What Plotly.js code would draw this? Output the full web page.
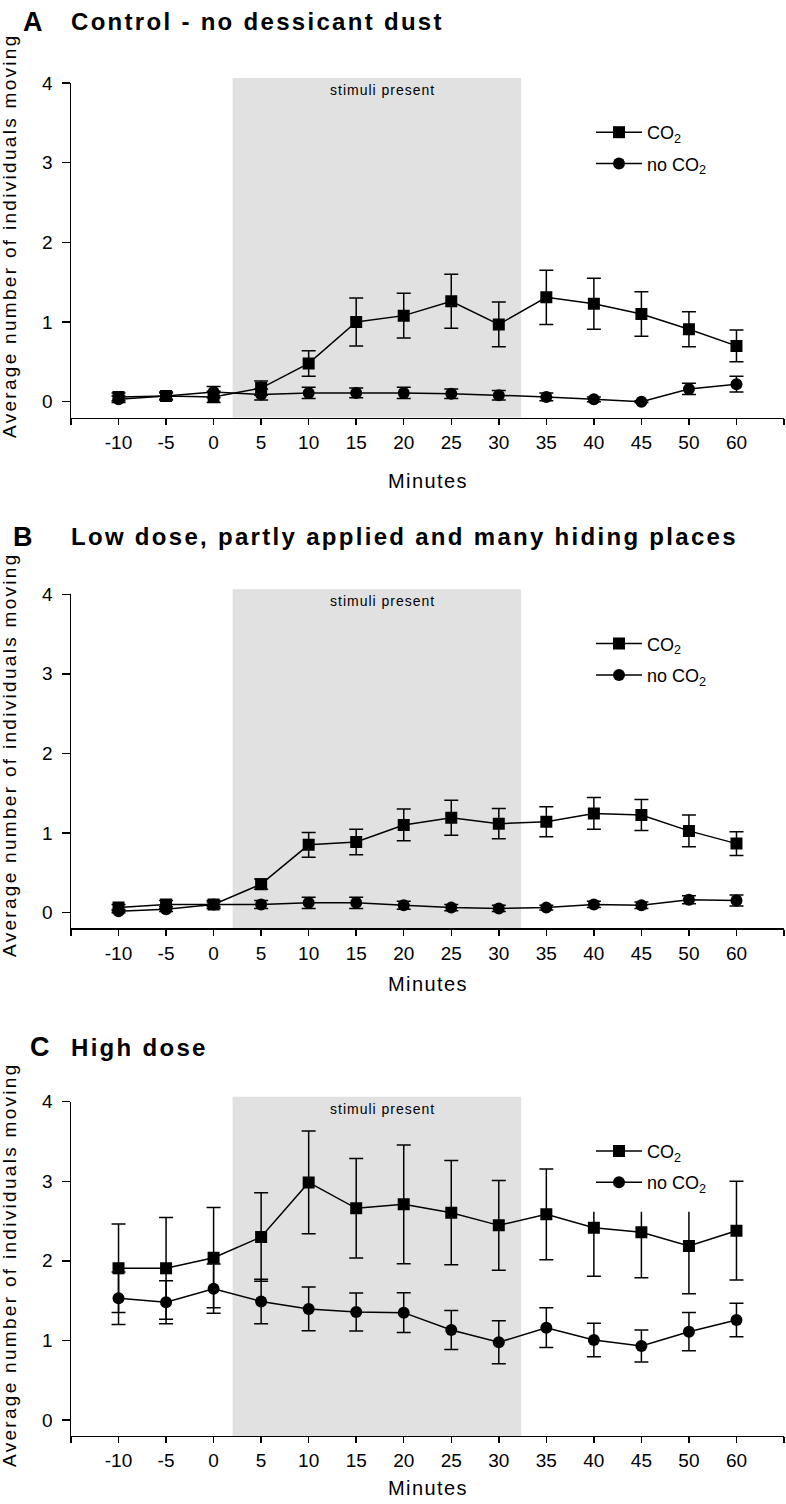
<!DOCTYPE html>
<html>
<head>
<meta charset="utf-8">
<script src="https://cdn.plot.ly/plotly-3.0.1.min.js"></script>
<style>html,body{margin:0;padding:0;background:#fff;}</style>
</head>
<body>
<div id="chart" style="width:786px;height:1504px;"></div>
<script>
// ---------------- data ----------------
const categories = ['-10','-5','0','5','10','15','20','25','30','35','40','45','50','60'];
const panelLetters = ['A','B','C'];
const panelTitles = ['Control - no dessicant dust','Low dose, partly applied and many hiding places','High dose'];
const seriesNames = ['CO<sub>2</sub>','no CO<sub>2</sub>'];
const yTicks = [0,1,2,3,4];
const stimuliStart = 2.4;   // category-index position where the stimulus block starts
const stimuliEnd = 8.47;    // category-index position where it ends

// Panel A: control
const co2A     = [0.06,0.07,0.06,0.17,0.48,1.00,1.08,1.26,0.97,1.31,1.23,1.10,0.91,0.70];
const co2AErr  = [0.05,0.05,0.07,0.09,0.16,0.30,0.28,0.34,0.28,0.34,0.32,0.28,0.22,0.20];
const noA      = [0.03,0.07,0.12,0.09,0.11,0.11,0.11,0.10,0.08,0.06,0.03,0.00,0.16,0.22];
const noAErr   = [0.04,0.04,0.07,0.07,0.07,0.06,0.07,0.06,0.06,0.05,0.03,0.01,0.07,0.10];

// Panel B: low dose
const co2B     = [0.06,0.10,0.10,0.355,0.85,0.885,1.10,1.19,1.115,1.14,1.245,1.225,1.025,0.865];
const co2BErr  = [0.04,0.05,0.05,0.065,0.155,0.16,0.20,0.22,0.19,0.19,0.20,0.195,0.20,0.15];
const noB      = [0.015,0.04,0.10,0.10,0.12,0.12,0.09,0.06,0.05,0.06,0.10,0.09,0.16,0.15];
const noBErr   = [0.02,0.03,0.03,0.05,0.07,0.07,0.05,0.04,0.04,0.03,0.04,0.04,0.05,0.07];

// Panel C: high dose
const co2C     = [1.906,1.906,2.04,2.30,2.986,2.66,2.71,2.605,2.446,2.584,2.417,2.358,2.186,2.379];
const co2CErr  = [0.556,0.64,0.63,0.555,0.645,0.625,0.745,0.655,0.565,0.57,0.61,0.57,0.60,0.62];
const noC      = [1.53,1.48,1.65,1.49,1.395,1.357,1.349,1.131,0.976,1.16,1.005,0.93,1.11,1.257];
const noCErr   = [0.33,0.27,0.31,0.28,0.275,0.24,0.25,0.245,0.27,0.25,0.21,0.20,0.24,0.21];

// ---------------- layout helpers ----------------
const W = 786, H = 1504, ML = 71, MR = 2;
const PW = W - ML - MR;
const FONT = 'Liberation Sans, Arial, Helvetica, sans-serif';
const py = px => 1 - px / H;            // page pixel -> paper y
const pxX = px => (px - ML) / PW;        // page pixel -> paper x

const panelTop = [83, 594.3, 1101.7];
const panelBot = [417.6, 928.3, 1435.9];
const titleY = [21.5, 536.7, 1047];
const letterX = [33, 23, 40];
const minutesY = [480.7, 984, 1488];
const yTitleY = [236, 755, 1265];

const panels = [
  {co2: co2A, co2Err: co2AErr, no: noA, noErr: noAErr},
  {co2: co2B, co2Err: co2BErr, no: noB, noErr: noBErr},
  {co2: co2C, co2Err: co2CErr, no: noC, noErr: noCErr}
];

const xIdx = categories.map((c, i) => i);

const traces = [];
const layout = {
  width: W, height: H,
  margin: {l: ML, r: MR, t: 0, b: 0},
  paper_bgcolor: '#fff', plot_bgcolor: 'rgba(0,0,0,0)',
  font: {family: FONT, color: '#000'},
  showlegend: true,
  shapes: [], annotations: []
};

panels.forEach((p, k) => {
  const n = k === 0 ? '' : String(k + 1);
  const xa = 'x' + n, ya = 'y' + n;
  const lg = 'legend' + n;
  const axCommon = {
    showline: true, linecolor: '#000', linewidth: 1.5,
    ticks: 'outside', tickcolor: '#000', tickwidth: 1.5,
    showgrid: false, zeroline: false,
    tickfont: {family: FONT, size: 19, color: '#000'}
  };
  layout['xaxis' + n] = Object.assign({}, axCommon, {
    domain: [0, 1], anchor: ya, range: [-1, categories.length],
    tickmode: 'array', tickvals: xIdx, ticktext: categories,
    ticklen: 6, ticklabelstandoff: 1,
    minor: {tickmode: 'array', tickvals: [-1, categories.length], ticks: 'outside',
            ticklen: 6, tickwidth: 1.5, tickcolor: '#000', showgrid: false}
  });
  layout['yaxis' + n] = Object.assign({}, axCommon, {
    domain: [py(panelBot[k]), py(panelTop[k])], anchor: xa,
    range: [-0.2, 4], tickmode: 'array', tickvals: yTicks,
    ticklen: 8, ticklabelstandoff: 5
  });

  const legTop = panelTop[k] + 31;
  layout[lg] = {
    x: pxX(591), y: py(legTop), xref: 'paper', yref: 'paper',
    xanchor: 'left', yanchor: 'top',
    bgcolor: '#fff', borderwidth: 0,
    font: {family: FONT, size: 18, color: '#000'},
    tracegroupgap: 5, itemwidth: 46
  };

  const errStyle = {type: 'data', visible: true, color: '#000', thickness: 1.5, width: 7};
  traces.push({
    x: xIdx, y: p.co2, name: seriesNames[0], mode: 'lines+markers',
    xaxis: xa, yaxis: ya, legend: lg, legendgroup: 'co2' + k,
    line: {color: '#000', width: 1.5},
    marker: {symbol: 'square', size: 12, color: '#000'},
    error_y: Object.assign({array: p.co2Err}, errStyle)
  });
  traces.push({
    x: xIdx, y: p.no, name: seriesNames[1], mode: 'lines+markers',
    xaxis: xa, yaxis: ya, legend: lg, legendgroup: 'no' + k,
    line: {color: '#000', width: 1.5},
    marker: {symbol: 'circle', size: 12, color: '#000'},
    error_y: Object.assign({array: p.noErr}, errStyle)
  });

  layout.shapes.push({
    type: 'rect', layer: 'below', xref: xa, yref: ya + ' domain',
    x0: stimuliStart, x1: stimuliEnd, y0: 0, y1: 1.015,
    fillcolor: '#e1e1e1', line: {width: 0}
  });
  layout.shapes.push({
    type: 'rect', layer: 'above', xref: xa + ' domain', yref: ya + ' domain',
    x0: pxX(580), x1: pxX(712),
    y0: (panelBot[k] - (panelTop[k] + 110)) / (panelBot[k] - panelTop[k]),
    y1: (panelBot[k] - (panelTop[k] + 20)) / (panelBot[k] - panelTop[k]),
    fillcolor: '#fff', line: {width: 0}
  });

  layout.annotations.push({
    xref: xa, yref: ya + ' domain', x: 5.55, y: 1 - 7 / (panelBot[k] - panelTop[k]),
    xanchor: 'center', yanchor: 'middle', showarrow: false,
    text: '<span style="letter-spacing:1px">stimuli present</span>',
    font: {family: FONT, size: 14, color: '#000'}
  });
  layout.annotations.push({
    xref: 'paper', yref: 'paper', x: 0.5, y: py(minutesY[k]),
    xanchor: 'center', yanchor: 'middle', showarrow: false,
    text: '<span style="letter-spacing:1.4px">Minutes</span>',
    font: {family: FONT, size: 20, color: '#000'}
  });
  layout.annotations.push({
    xref: 'paper', yref: 'paper', x: pxX(9), y: py(yTitleY[k]),
    xanchor: 'center', yanchor: 'middle', showarrow: false, textangle: -90,
    text: '<span style="letter-spacing:2.3px">Average number of individuals moving</span>',
    font: {family: FONT, size: 19, color: '#000'}
  });
  layout.annotations.push({
    xref: 'paper', yref: 'paper', x: pxX(letterX[k]), y: py(titleY[k]),
    xanchor: 'center', yanchor: 'middle', showarrow: false,
    text: '<b>' + panelLetters[k] + '</b>',
    font: {family: FONT, size: 27, color: '#000'}
  });
  layout.annotations.push({
    xref: 'paper', yref: 'paper', x: pxX(69), y: py(titleY[k]),
    xanchor: 'left', yanchor: 'middle', showarrow: false,
    text: '<span style="letter-spacing:2.3px"><b>' + panelTitles[k] + '</b></span>',
    font: {family: FONT, size: 24, color: '#000'}
  });
});

Plotly.newPlot('chart', traces, layout, {staticPlot: true, displayModeBar: false});
</script>
</body>
</html>
